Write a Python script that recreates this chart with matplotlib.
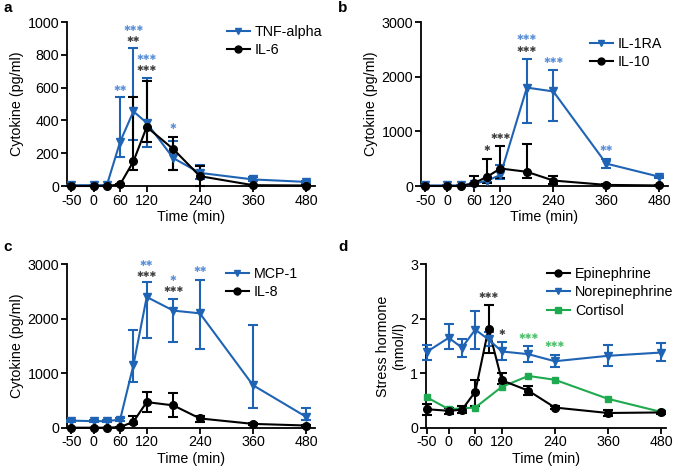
import matplotlib
matplotlib.use("Agg")
import matplotlib.pyplot as plt
from matplotlib.lines import Line2D
import numpy as np

plt.rcParams['font.family'] = ['Liberation Sans', 'DejaVu Sans']
plt.rcParams['axes.unicode_minus'] = False

BLUE = '#1f64b4'
BLACK = '#000000'
GREEN = '#1faa4f'
STAR_BLUE = '#5a90d8'
STAR_BLACK = '#404040'
STAR_GREEN = '#4cc06a'

time = [-50, 0, 30, 60, 90, 120, 180, 240, 360, 480]
xticks = [-50, 0, 60, 120, 240, 360, 480]

# Panel a
tnf = [5, 5, 5, 270, 455, 385, 170, 80, 40, 25]
tnf_hi = [5, 5, 5, 540, 840, 660, 275, 130, 55, 30]
tnf_lo = [5, 5, 5, 175, 280, 240, 100, 40, 30, 20]
il6 = [0, 0, 0, 10, 150, 360, 225, 60, 5, 3]
il6_hi = [0, 0, 0, 15, 540, 640, 300, 120, 8, 5]
il6_lo = [0, 0, 0, 5, 100, 270, 100, 0, 2, 1]
stars_a = [(60, 593, '**', 'b'), (90, 959, '***', 'b'), (90, 892, '**', 'k'),
           (120, 782, '***', 'b'), (120, 715, '***', 'k'), (180, 364, '*', 'b')]

# Panel b
il1ra = [10, 10, 10, 40, 100, 200, 1800, 1730, 410, 170]
il1ra_hi = [10, 10, 10, 60, 130, 380, 2330, 2130, 490, 190]
il1ra_lo = [10, 10, 10, 20, 70, 130, 1150, 1180, 330, 150]
il10 = [0, 0, 0, 50, 170, 320, 260, 100, 20, 10]
il10_hi = [0, 0, 0, 180, 500, 730, 770, 190, 30, 15]
il10_lo = [0, 0, 0, 20, 60, 150, 140, 30, 10, 5]
stars_b = [(90, 683, '*', 'k'), (120, 908, '***', 'k'), (180, 2713, '***', 'b'),
           (180, 2500, '***', 'k'), (240, 2300, '***', 'b'), (360, 683, '**', 'b')]

# Panel c
mcp1 = [130, 120, 120, 150, 1150, 2400, 2150, 2100, 780, 200]
mcp1_hi = [150, 140, 140, 170, 1800, 2680, 2370, 2720, 1890, 360]
mcp1_lo = [110, 100, 100, 130, 830, 1650, 1570, 1450, 370, 150]
il8 = [0, 0, 0, 10, 110, 470, 410, 170, 70, 40]
il8_hi = [0, 0, 0, 20, 220, 660, 630, 220, 90, 50]
il8_lo = [0, 0, 0, 5, 60, 290, 190, 100, 50, 30]
stars_c = [(120, 3019, '**', 'b'), (120, 2817, '***', 'k'), (180, 2743, '*', 'b'),
           (180, 2541, '***', 'k'), (240, 2896, '**', 'b')]

# Panel d
epi = [0.34, 0.31, 0.33, 0.66, 1.82, 0.87, 0.68, 0.37, 0.27, 0.28]
epi_hi = [0.44, 0.36, 0.40, 0.88, 2.26, 1.00, 0.76, 0.40, 0.32, 0.30]
epi_lo = [0.24, 0.26, 0.27, 0.40, 1.38, 0.80, 0.60, 0.34, 0.22, 0.26]
norepi = [1.39, 1.65, 1.47, 1.80, 1.62, 1.40, 1.35, 1.22, 1.32, 1.38]
norepi_hi = [1.52, 1.90, 1.62, 2.15, 1.76, 1.58, 1.50, 1.33, 1.51, 1.55]
norepi_lo = [1.25, 1.45, 1.30, 1.45, 1.50, 1.25, 1.20, 1.12, 1.14, 1.22]
cort_time = [-50, 0, 60, 120, 180, 240, 360, 480]
cort = [0.56, 0.34, 0.37, 0.75, 0.95, 0.88, 0.53, 0.29]
stars_d = [(90, 2.42, '***', 'k'), (120, 1.75, '*', 'k'), (180, 1.68, '***', 'g'),
           (240, 1.52, '***', 'g')]

star_col = {'b': STAR_BLUE, 'k': STAR_BLACK, 'g': STAR_GREEN}
FS = 10.3

fig = plt.figure(figsize=(6.75, 4.75), dpi=100)

W, H = 675.0, 475.0
def add_ax(left_px, right_px, top_px, bottom_px):
    return fig.add_axes([left_px / W, 1 - bottom_px / H, (right_px - left_px) / W,
                         (bottom_px - top_px) / H])

ax_a = add_ax(67, 315, 22, 186)
ax_b = add_ax(421, 668, 22, 186)
ax_c = add_ax(67, 315, 264.3, 427.7)
ax_d = add_ax(425.7, 665.5, 264.3, 427.7)


def series(ax, x, y, hi, lo, color, marker, ms=5.5):
    y = np.array(y, float)
    err = [y - np.array(lo, float), np.array(hi, float) - y]
    ax.errorbar(x, y, yerr=err, color=color, marker=marker, ms=ms, lw=1.5,
                elinewidth=1.5, capsize=3.5, capthick=1.5,
                clip_on=False, zorder=3)


def style(ax, ylim, yticks, ylabel, xlim=(-60, 500)):
    ax.set_xlim(*xlim)
    ax.set_ylim(*ylim)
    ax.set_xticks(xticks)
    ax.set_yticks(yticks)
    for s in ['top', 'right']:
        ax.spines[s].set_visible(False)
    for s in ['left', 'bottom']:
        ax.spines[s].set_linewidth(1.3)
    ax.tick_params(direction='out', length=4, width=1.3, labelsize=FS, pad=1.5)
    ax.set_xlabel('Time (min)', fontsize=FS, labelpad=2)
    ax.set_ylabel(ylabel, fontsize=FS, labelpad=3)


def stars(ax, lst):
    for x, y, s, c in lst:
        ax.text(x, y, s.replace('*', '\u2731'), color=star_col[c], fontsize=5.9,
                family=['DejaVu Sans'], ha='center', va='center', zorder=5)


def legend(ax, items, anchor):
    handles = [Line2D([], [], color=c, marker=m, ms=5, lw=1.5) for c, m, _ in items]
    labels = [l for _, _, l in items]
    ax.legend(handles, labels, loc='upper left', bbox_to_anchor=anchor,
              bbox_transform=fig.transFigure, frameon=False, fontsize=FS,
              handlelength=1.6, handletextpad=0.35, labelspacing=0.3,
              borderaxespad=0.0, borderpad=0.0)


# a
series(ax_a, time, tnf, tnf_hi, tnf_lo, BLUE, 'v')
series(ax_a, time, il6, il6_hi, il6_lo, BLACK, 'o')
style(ax_a, (0, 1000), [0, 200, 400, 600, 800, 1000], 'Cytokine (pg/ml)')
stars(ax_a, stars_a)
legend(ax_a, [(BLUE, 'v', 'TNF-alpha'), (BLACK, 'o', 'IL-6')], (227 / W, 1 - 25 / H))

# b
series(ax_b, time, il1ra, il1ra_hi, il1ra_lo, BLUE, 'v')
series(ax_b, time, il10, il10_hi, il10_lo, BLACK, 'o')
style(ax_b, (0, 3000), [0, 1000, 2000, 3000], 'Cytokine (pg/ml)')
stars(ax_b, stars_b)
legend(ax_b, [(BLUE, 'v', 'IL-1RA'), (BLACK, 'o', 'IL-10')], (590 / W, 1 - 37 / H))

# c
series(ax_c, time, mcp1, mcp1_hi, mcp1_lo, BLUE, 'v')
series(ax_c, time, il8, il8_hi, il8_lo, BLACK, 'o')
style(ax_c, (0, 3000), [0, 1000, 2000, 3000], 'Cytokine (pg/ml)')
stars(ax_c, stars_c)
legend(ax_c, [(BLUE, 'v', 'MCP-1'), (BLACK, 'o', 'IL-8')], (226 / W, 1 - 267 / H))

# d
series(ax_d, time, epi, epi_hi, epi_lo, BLACK, 'o')
series(ax_d, time, norepi, norepi_hi, norepi_lo, BLUE, 'v')
ax_d.plot(cort_time, cort, color=GREEN, marker='s', ms=5, lw=1.5,
          clip_on=False, zorder=3)
style(ax_d, (0, 3), [0, 1, 2, 3], 'Stress hormone\n(nmol/l)', xlim=(-52, 490))
stars(ax_d, stars_d)
legend(ax_d, [(BLACK, 'o', 'Epinephrine'), (BLUE, 'v', 'Norepinephrine'),
              (GREEN, 's', 'Cortisol')], (547 / W, 1 - 267 / H))

for lab, (x, y) in zip('abcd', [(3, 1), (338, 1), (3, 240), (338, 240)]):
    fig.text(x / W, 1 - y / H, lab, fontsize=11, fontweight='bold', va='top', ha='left')

fig.savefig('out.png', dpi=100)
